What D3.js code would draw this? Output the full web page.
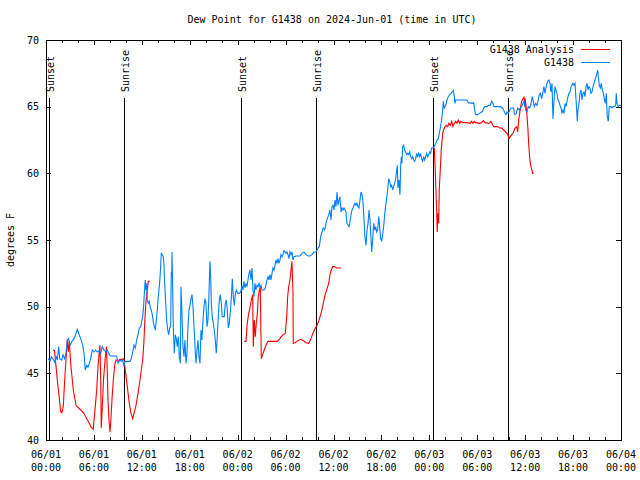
<!DOCTYPE html>
<html>
<head>
<meta charset="utf-8">
<script src="https://cdn.jsdelivr.net/npm/d3@7"></script>
<style>
  html, body { margin: 0; padding: 0; background: #fff; }
  svg { display: block; }
  text { font-family: "DejaVu Sans Mono", "Liberation Mono", monospace; font-size: 10px; fill: #000; }
</style>
</head>
<body>
<svg id="chart" width="640" height="480"></svg>
<script>
// ---------- DATA (time in hours since 2024-06-01 00:00 UTC, dew point in °F) ----------
const chartTitle = "Dew Point for G1438 on 2024-Jun-01 (time in UTC)";
const yLabel = "degrees F";
const seriesNames = ["G1438 Analysis", "G1438"];
const yTicks = [40, 45, 50, 55, 60, 65, 70];
const xMajorTicks = [0, 6, 12, 18, 24, 30, 36, 42, 48, 54, 60, 66, 72];
const xTickDates = ["06/01","06/01","06/01","06/01","06/02","06/02","06/02","06/02","06/03","06/03","06/03","06/03","06/04"];
const xTickTimes = ["00:00","06:00","12:00","18:00","00:00","06:00","12:00","18:00","00:00","06:00","12:00","18:00","00:00"];
const sunEvents = [
  ["Sunset", 0.41], ["Sunrise", 9.80], ["Sunset", 24.45],
  ["Sunrise", 33.84], ["Sunset", 48.49], ["Sunrise", 57.88]
];

// G1438 observations
const g1438 = [
[0.29,46.1],[0.50,45.9],[0.66,46.25],[0.91,46.05],[1.13,45.8],[1.25,46.3],[1.41,46.0],[1.59,47.0],[1.72,46.1],[1.97,46.0],
[2.13,46.4],[2.34,46.1],[2.50,46.5],[2.67,47.5],[2.84,47.6],[3.01,47.1],[3.26,47.4],[3.51,47.6],[3.76,48.0],[3.92,48.3],
[4.09,48.0],[4.35,47.6],[4.60,47.1],[4.76,46.5],[4.92,45.25],[5.10,45.6],[5.26,45.45],[5.42,45.75],[5.60,46.1],[5.80,46.75],
[6.01,46.6],[6.22,46.75],[6.42,46.6],[6.67,46.7],[6.85,46.5],[7.05,47.0],[7.26,46.75],[7.48,46.6],[7.68,46.75],[7.93,46.4],
[8.10,46.3],[8.51,46.3],[8.85,46.3],[9.02,45.75],[9.27,46.0],[9.43,45.9],[9.60,46.0],[9.77,45.5],[9.89,45.9],[10.18,45.9],
[10.52,45.9],[10.68,46.1],[10.86,46.6],[11.02,47.1],[11.18,46.9],[11.36,47.5],[11.52,47.9],[11.68,48.4],[11.86,48.5],[12.11,49.25],
[12.23,50.1],[12.36,51.5],[12.43,52.0],[12.52,51.25],[12.61,51.75],[12.68,50.5],[12.81,50.25],[12.93,50.4],[13.06,49.9],[13.18,49.75],
[13.31,49.4],[13.43,48.9],[13.56,48.5],[13.69,48.25],[13.81,49.0],[13.94,49.75],[14.06,50.75],[14.19,51.5],[14.31,52.5],[14.44,54.0],
[14.56,53.9],[14.69,53.75],[14.77,53.1],[14.86,51.75],[14.99,50.25],[15.11,49.0],[15.24,48.25],[15.36,47.9],[15.49,48.4],[15.61,48.5],
[15.69,52.6],[15.74,52.25],[15.78,54.1],[15.86,51.5],[15.94,48.5],[16.06,46.5],[16.19,47.9],[16.32,47.6],[16.44,47.0],[16.57,47.75],
[16.69,46.25],[16.82,45.75],[16.90,51.5],[17.03,49.5],[17.15,47.0],[17.28,46.25],[17.40,47.5],[17.53,45.75],[17.65,46.5],[17.78,48.5],
[17.90,49.75],[18.03,50.1],[18.16,50.6],[18.28,50.9],[18.41,50.0],[18.53,48.5],[18.66,47.0],[18.78,45.75],[18.91,46.75],[19.03,47.5],
[19.16,46.25],[19.28,45.75],[19.41,48.25],[19.53,47.5],[19.66,49.0],[19.78,50.0],[19.91,50.6],[20.03,50.25],[20.16,48.5],[20.28,49.0],
[20.41,51.0],[20.53,53.4],[20.62,52.25],[20.70,50.25],[20.82,49.25],[20.95,48.75],[21.07,48.25],[21.20,47.5],[21.32,46.5],[21.45,47.75],
[21.57,49.25],[21.70,50.5],[21.82,50.9],[21.95,50.25],[22.07,49.25],[22.20,49.25],[22.32,49.25],[22.45,50.25],[22.58,50.5],[22.70,49.75],
[22.83,48.4],[22.95,48.75],[23.08,49.6],[23.20,50.6],[23.33,52.1],[23.45,50.75],[23.58,50.1],[23.70,50.9],[23.83,51.25],[24.00,51.0],
[24.20,51.0],[24.38,51.1],[24.54,51.5],[24.67,51.25],[24.79,51.9],[24.92,51.4],[25.04,51.75],[25.17,51.5],[25.29,52.0],[25.42,52.5],
[25.54,52.75],[25.67,52.0],[25.79,52.9],[25.92,51.25],[26.04,50.75],[26.17,51.75],[26.29,51.25],[26.42,51.6],[26.54,51.5],[26.67,51.75],
[26.80,51.5],[26.92,51.6],[27.05,51.25],[27.30,51.25],[27.46,51.4],[27.63,51.9],[27.80,52.25],[27.92,52.0],[28.05,52.4],[28.17,52.0],
[28.30,52.5],[28.42,52.9],[28.55,52.75],[28.67,53.1],[28.80,53.5],[28.92,53.25],[29.05,53.6],[29.17,53.25],[29.30,53.5],[29.42,53.9],
[29.55,53.75],[29.67,53.9],[29.80,54.2],[29.93,54.1],[30.05,54.0],[30.18,54.1],[30.30,53.9],[30.43,53.6],[30.55,54.1],[30.68,53.9],
[30.80,54.1],[30.93,53.5],[31.05,53.75],[31.30,53.8],[31.55,53.8],[31.80,53.8],[32.06,54.0],[32.31,54.1],[32.56,53.9],[32.81,53.8],
[33.06,53.8],[33.31,53.9],[33.56,54.1],[33.81,54.1],[34.06,54.4],[34.22,54.5],[34.40,55.25],[34.56,55.6],[34.72,55.9],[34.90,55.75],
[35.06,56.25],[35.22,56.6],[35.40,56.9],[35.56,57.25],[35.69,56.5],[35.81,57.5],[35.94,57.6],[36.06,57.25],[36.19,58.0],[36.31,57.5],
[36.44,58.6],[36.56,57.6],[36.69,58.0],[36.81,58.25],[36.94,57.1],[37.06,57.4],[37.19,57.25],[37.31,57.4],[37.44,57.25],[37.56,57.1],
[37.69,56.25],[37.82,56.1],[37.94,56.0],[38.07,56.4],[38.19,56.9],[38.32,57.25],[38.44,57.4],[38.57,57.6],[38.69,57.75],[38.82,57.6],
[38.94,57.75],[39.07,57.5],[39.19,57.4],[39.32,58.0],[39.44,58.6],[39.57,58.4],[39.69,57.9],[39.82,56.5],[39.94,55.25],[40.07,54.6],
[40.20,55.75],[40.32,56.25],[40.45,57.25],[40.57,56.5],[40.70,55.1],[40.78,54.1],[40.91,55.0],[41.03,56.25],[41.16,55.75],[41.28,56.0],
[41.41,55.6],[41.53,55.75],[41.66,56.75],[41.78,56.0],[41.91,55.1],[42.03,54.9],[42.16,55.4],[42.28,56.0],[42.41,56.9],[42.53,57.6],
[42.66,58.1],[42.78,58.75],[42.91,59.6],[43.03,59.4],[43.16,59.0],[43.28,59.1],[43.41,58.75],[43.53,59.0],[43.66,59.25],[43.79,59.6],
[43.91,60.25],[43.99,60.6],[44.07,58.9],[44.20,59.5],[44.32,58.4],[44.41,60.5],[44.49,61.25],[44.57,60.75],[44.66,62.0],[44.79,62.1],
[44.91,61.75],[45.04,61.6],[45.16,61.4],[45.29,61.5],[45.41,61.4],[45.54,61.6],[45.66,61.25],[45.79,61.1],[45.91,61.25],[46.04,61.0],
[46.16,60.9],[46.29,61.1],[46.41,61.5],[46.54,61.25],[46.66,61.5],[46.79,61.25],[46.91,61.5],[47.04,61.1],[47.16,60.9],[47.29,61.25],
[47.41,61.0],[47.54,61.25],[47.66,61.5],[47.79,61.25],[47.92,61.4],[48.04,61.6],[48.16,61.5],[48.29,61.9],[48.45,61.9],[48.62,62.0],
[48.79,62.25],[48.96,62.5],[49.12,62.6],[49.33,63.25],[49.54,64.0],[49.67,64.75],[49.75,65.4],[49.87,64.9],[50.05,65.1],[50.21,65.5],
[50.37,65.75],[50.55,65.9],[50.71,66.0],[50.87,66.1],[51.00,66.2],[51.13,65.75],[51.21,65.25],[51.30,65.5],[51.80,65.5],[52.46,65.5],
[52.71,65.5],[52.88,65.3],[53.38,65.25],[53.55,65.3],[53.68,64.75],[53.80,64.4],[54.05,64.4],[54.30,64.5],[54.47,64.6],[54.63,64.6],
[54.81,64.9],[54.97,65.0],[55.22,65.0],[55.38,65.1],[55.63,65.1],[55.81,65.4],[55.97,65.25],[56.10,65.0],[56.47,65.0],[56.89,65.0],
[57.14,64.9],[57.31,64.75],[57.47,64.5],[57.60,64.4],[57.72,64.6],[57.89,64.5],[58.06,64.75],[58.22,64.9],[58.56,64.9],[58.64,64.5],
[58.72,64.4],[58.89,64.5],[59.06,64.9],[59.23,64.75],[59.39,64.9],[59.57,65.0],[59.73,65.25],[59.89,65.4],[60.06,64.75],[60.23,64.6],
[60.39,65.0],[60.57,64.9],[60.73,65.25],[60.89,65.75],[61.02,65.4],[61.14,65.0],[61.32,65.25],[61.48,65.1],[61.64,65.5],[61.77,65.9],
[61.89,66.0],[62.07,65.6],[62.23,66.1],[62.35,66.5],[62.48,66.0],[62.60,66.4],[62.73,66.75],[62.85,66.95],[62.98,67.0],[63.11,66.75],
[63.23,66.1],[63.36,66.75],[63.48,64.1],[63.61,65.4],[63.73,66.5],[63.86,66.25],[63.98,66.0],[64.11,65.5],[64.23,65.4],[64.36,65.1],
[64.48,64.9],[64.61,64.5],[64.73,64.75],[64.86,64.5],[64.99,65.25],[65.11,65.0],[65.24,65.4],[65.36,65.75],[65.49,66.0],[65.61,66.1],
[65.74,66.5],[65.86,66.6],[65.99,66.75],[66.11,66.6],[66.24,66.75],[66.37,65.5],[66.45,64.75],[66.53,63.9],[66.61,64.75],[66.74,65.25],
[66.87,66.0],[66.99,66.25],[67.12,65.5],[67.24,66.0],[67.37,66.1],[67.49,65.75],[67.62,66.5],[67.74,66.75],[67.87,66.25],[67.99,66.5],
[68.12,66.4],[68.24,66.0],[68.37,66.1],[68.49,66.5],[68.62,66.75],[68.74,67.0],[68.87,67.25],[68.99,67.5],[69.08,67.75],[69.16,67.25],
[69.28,66.6],[69.41,66.4],[69.53,66.75],[69.66,66.25],[69.78,66.0],[69.91,65.6],[70.03,65.25],[70.16,66.0],[70.28,64.25],[70.41,63.9],
[70.53,65.0],[70.71,65.0],[70.87,64.9],[71.03,65.0],[71.21,65.0],[71.33,65.1],[71.41,66.0],[71.49,65.25],[71.66,65.0],[71.83,65.1],[72.0,65.1]
];

// G1438 Analysis (three separate runs)
const analysisRun1 = [
[0.91,46.75],[1.06,46.7],[1.16,46.1],[1.34,45.0],[1.50,44.0],[1.67,43.1],[1.84,42.1],[2.00,42.05],[2.17,42.6],[2.34,44.5],
[2.50,46.0],[2.67,47.55],[2.79,46.6],[2.92,47.4],[3.09,45.75],[3.42,43.75],[3.76,42.6],[3.92,42.5],[4.35,42.25],[4.76,42.0],
[5.10,41.6],[5.42,41.25],[5.67,40.95],[5.92,40.8],[6.01,41.5],[6.17,42.5],[6.35,43.75],[6.51,45.5],[6.67,46.6],[6.76,47.1],
[6.85,44.5],[6.92,40.9],[7.05,42.5],[7.20,44.5],[7.39,46.0],[7.57,47.0],[7.68,45.0],[7.76,43.0],[7.89,41.5],[8.01,40.6],
[8.10,41.25],[8.26,43.0],[8.43,44.5],[8.60,45.6],[8.76,46.0],[9.01,45.95],[9.27,46.05],[9.52,46.05],[9.68,46.1],[9.77,46.0],
[9.93,45.25],[10.18,44.0],[10.43,42.75],[10.68,41.9],[10.86,41.6],[11.02,42.0],[11.27,42.6],[11.52,43.5],[11.77,44.5],[11.93,45.25],
[12.11,46.0],[12.27,47.5],[12.40,49.25],[12.52,50.4],[12.68,51.25],[12.81,51.9],[12.98,51.9]
];
const analysisRun2 = [
[24.83,47.4],[25.04,47.4],[25.20,48.75],[25.38,49.5],[25.54,49.9],[25.71,50.5],[25.88,50.9],[25.96,47.0],[26.08,49.0],[26.21,47.75],
[26.33,48.75],[26.46,49.5],[26.58,50.75],[26.71,51.25],[26.83,51.5],[26.96,46.1],[27.13,46.4],[27.33,46.75],[27.54,47.1],[27.79,47.4],
[28.17,47.4],[28.58,47.4],[28.96,47.4],[29.21,47.55],[29.46,47.75],[29.71,47.9],[29.96,48.0],[30.14,49.25],[30.26,50.75],[30.39,51.5],
[30.55,52.0],[30.68,52.75],[30.80,53.4],[30.93,51.0],[30.96,47.25],[31.21,47.3],[31.55,47.45],[31.89,47.55],[32.22,47.45],[32.55,47.3],
[32.89,47.25],[33.14,47.55],[33.39,47.95],[33.64,48.3],[33.89,48.55],[34.14,48.9],[34.39,49.4],[34.64,50.0],[34.89,50.75],[35.14,51.25],
[35.40,51.75],[35.56,52.4],[35.72,52.75],[35.90,53.0],[36.15,53.0],[36.40,52.9],[36.65,52.9],[36.97,52.9]
];
const analysisRun3 = [
[48.62,61.9],[48.74,60.25],[48.83,58.75],[48.92,57.1],[48.99,55.6],[49.08,57.0],[49.17,56.25],[49.24,58.75],[49.37,60.25],[49.49,61.75],
[49.67,63.0],[49.79,63.25],[49.96,63.5],[50.12,63.6],[50.30,63.5],[50.46,63.75],[50.62,63.6],[50.80,63.9],[50.96,63.5],[51.12,63.75],
[51.30,63.9],[51.46,63.75],[51.62,64.0],[51.80,63.75],[51.96,63.9],[52.21,63.8],[52.71,63.8],[53.12,63.75],[53.30,63.9],[53.46,63.75],
[53.62,63.9],[53.80,63.8],[54.30,63.75],[54.55,63.8],[54.75,63.95],[54.96,63.8],[55.46,63.75],[55.71,63.9],[55.88,63.7],[56.05,63.5],
[56.55,63.5],[56.80,63.4],[57.06,63.4],[57.31,63.25],[57.56,63.1],[57.81,62.95],[57.97,62.6],[58.13,62.75],[58.31,62.9],[58.47,63.0],
[58.64,63.25],[58.72,63.4],[58.94,63.5],[59.06,63.1],[59.19,64.0],[59.31,64.5],[59.44,65.0],[59.56,65.4],[59.72,65.6],[59.85,65.7],
[59.94,65.0],[60.01,65.6],[60.10,65.1],[60.22,64.4],[60.35,63.25],[60.47,61.9],[60.60,61.0],[60.72,60.5],[60.85,60.25],[60.94,60.0],[61.06,60.0]
];
const analysisRuns = [analysisRun1, analysisRun2, analysisRun3];

const colors = { analysis: "#ff0000", obs: "#0080ff" };

// ---------- DRAW ----------
const svg = d3.select("#chart");
const W = 640, H = 480;
const plot = { left: 46, right: 621, top: 40, bottom: 440 };

const x = d3.scaleLinear().domain([0, 72]).range([plot.left, plot.right]);
const y = d3.scaleLinear().domain([40, 70]).range([plot.bottom, plot.top]);

svg.append("rect").attr("width", W).attr("height", H).attr("fill", "#fff");

svg.append("defs").append("clipPath").attr("id", "clip")
  .append("rect").attr("x", plot.left).attr("y", plot.top)
  .attr("width", plot.right - plot.left).attr("height", plot.bottom - plot.top);

// Title
svg.append("text").attr("x", 332).attr("y", 23).attr("text-anchor", "middle").text(chartTitle);

// Y label
svg.append("text").attr("transform", "translate(14,240) rotate(-90)")
  .attr("text-anchor", "middle").text(yLabel);

const tickG = svg.append("g").attr("stroke", "#000").attr("stroke-width", 1).attr("shape-rendering", "crispEdges");

// X ticks (major every 6h, minor every 2h), mirrored top & bottom, inward
const xMinor = d3.range(0, 73, 2).filter(h => !xMajorTicks.includes(h));
xMinor.forEach(h => {
  const px = Math.round(x(h)) + 0.5;
  tickG.append("line").attr("x1", px).attr("x2", px).attr("y1", plot.bottom).attr("y2", plot.bottom - 3);
  tickG.append("line").attr("x1", px).attr("x2", px).attr("y1", plot.top).attr("y2", plot.top + 3);
});
xMajorTicks.forEach((h, i) => {
  const px = Math.round(x(h)) + 0.5;
  tickG.append("line").attr("x1", px).attr("x2", px).attr("y1", plot.bottom).attr("y2", plot.bottom - 5);
  tickG.append("line").attr("x1", px).attr("x2", px).attr("y1", plot.top).attr("y2", plot.top + 5);
  svg.append("text").attr("x", x(h)).attr("y", 458).attr("text-anchor", "middle").text(xTickDates[i]);
  svg.append("text").attr("x", x(h)).attr("y", 471).attr("text-anchor", "middle").text(xTickTimes[i]);
});

// Y ticks
yTicks.forEach(v => {
  const py = Math.round(y(v)) + 0.5;
  tickG.append("line").attr("x1", plot.left).attr("x2", plot.left + 5).attr("y1", py).attr("y2", py);
  tickG.append("line").attr("x1", plot.right).attr("x2", plot.right - 5).attr("y1", py).attr("y2", py);
  svg.append("text").attr("x", 39).attr("y", y(v) + 3.5).attr("text-anchor", "end").text(v);
});

// Sunrise / sunset markers
sunEvents.forEach(([name, h]) => {
  const px = Math.round(x(h)) + 0.5;
  svg.append("line").attr("x1", px).attr("x2", px).attr("y1", 98).attr("y2", plot.bottom)
    .attr("stroke", "#000").attr("stroke-width", 1).attr("shape-rendering", "crispEdges");
  svg.append("text").attr("transform", `translate(${px + 4},92) rotate(-90)`)
    .attr("text-anchor", "start").text(name);
});

// Data lines
const line = d3.line().x(d => x(d[0])).y(d => y(d[1]));
const dataG = svg.append("g").attr("clip-path", "url(#clip)");
analysisRuns.forEach(run => {
  dataG.append("path").datum(run).attr("d", line)
    .attr("fill", "none").attr("stroke", colors.analysis).attr("stroke-width", 1.1);
});
dataG.append("path").datum(g1438).attr("d", line)
  .attr("fill", "none").attr("stroke", colors.obs).attr("stroke-width", 1.1);

// Frame
svg.append("rect").attr("x", plot.left + 0.5).attr("y", plot.top + 0.5)
  .attr("width", plot.right - plot.left).attr("height", plot.bottom - plot.top)
  .attr("fill", "none").attr("stroke", "#000").attr("stroke-width", 1).attr("shape-rendering", "crispEdges");

// Legend
const legend = [[seriesNames[0], colors.analysis, 49], [seriesNames[1], colors.obs, 62]];
legend.forEach(([name, c, ly]) => {
  svg.append("text").attr("x", 574).attr("y", ly + 4).attr("text-anchor", "end").text(name);
  svg.append("line").attr("x1", 581).attr("x2", 610).attr("y1", ly + 0.5).attr("y2", ly + 0.5)
    .attr("stroke", c).attr("stroke-width", 1).attr("shape-rendering", "crispEdges");
});
</script>
</body>
</html>
